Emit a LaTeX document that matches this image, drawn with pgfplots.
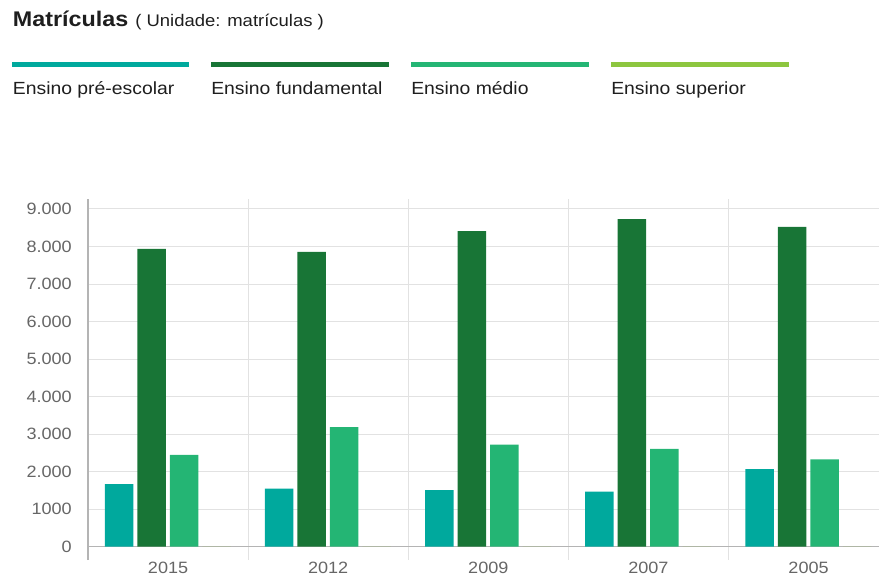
\documentclass[border=0pt]{standalone}
\usepackage{pgfplots}
\pgfplotsset{compat=1.18}
\usepackage{fontspec}
\setmainfont{Liberation Sans}[FakeStretch=1.1]

\definecolor{cpre}{RGB}{0,169,157}
\definecolor{cfund}{RGB}{24,117,54}
\definecolor{cmed}{RGB}{36,181,116}
\definecolor{csup}{RGB}{141,198,63}
\definecolor{gridgray}{RGB}{226,226,226}
\definecolor{axisgray}{RGB}{180,180,180}
\definecolor{tickgray}{RGB}{102,102,102}
\definecolor{txt}{RGB}{30,30,30}

\begin{document}
\begin{tikzpicture}
\path[use as bounding box] (0,0) rectangle (659.25pt,-432.75pt);

% title
\node[anchor=base west, inner sep=0pt, text=txt] at (9.5pt,-20pt)
  {\fontsize{15.9}{18}\selectfont\bfseries Matrículas};
\node[anchor=base west, inner sep=0pt, text=txt] at (101.25pt,-20pt)
  {\fontsize{12.6}{15}\selectfont ( Unidade: matrículas )};

% legend
\draw[cpre, line width=3.75pt] (9.2pt,-48.75pt) -- (141.5pt,-48.75pt);
\draw[cfund, line width=3.75pt] (158.25pt,-48.75pt) -- (291.75pt,-48.75pt);
\draw[cmed, line width=3.75pt] (308.25pt,-48.75pt) -- (441.75pt,-48.75pt);
\draw[csup, line width=3.75pt] (458.25pt,-48.75pt) -- (591.75pt,-48.75pt);
\begin{scope}[every node/.style={anchor=base west, inner sep=0pt, text=txt, font=\fontsize{13.2}{15}\selectfont}]
\node at (9.5pt,-70.7pt) {Ensino pré-escolar};
\node at (158.25pt,-70.7pt) {Ensino fundamental};
\node at (308.25pt,-70.7pt) {Ensino médio};
\node at (458.25pt,-70.7pt) {Ensino superior};
\end{scope}

\begin{axis}[
  at={(66pt,-420pt)}, anchor=south west,
  scale only axis, width=593.25pt, height=270.75pt,
  xmin=-0.5, xmax=4.44, ymin=-354, ymax=9266,
  axis line style={draw=none},
  ybar, bar width=0.178,
  xtick={0,1,2,3,4},
  xticklabels={2015,2012,2009,2007,2005},
  minor xtick={-0.5,0.5,1.5,2.5,3.5,4.5},
  xmajorgrids=false, xminorgrids=true,
  ytick={0,1000,...,9000},
  yticklabels={0,1000,2.000,3.000,4.000,5.000,6.000,7.000,8.000,9.000},
  ymajorgrids=true,
  extra y ticks={0}, extra y tick labels={},
  extra y tick style={grid style={draw=axisgray, line width=0.9pt}},
  grid style={draw=gridgray, line width=0.75pt},
  minor grid style={draw=gridgray, line width=0.75pt},
  major tick length=0pt, minor tick length=0pt,
  tick style={draw=none},
  xticklabel style={inner sep=0pt, yshift=-1.5pt, text=tickgray, font=\fontsize{12.3}{14}\selectfont},
  yticklabel style={inner sep=0pt, xshift=-12pt, text=tickgray, font=\fontsize{12.3}{14}\selectfont},
  clip=false,
]
\addplot[fill=cpre, draw=none, bar shift=-0.306] coordinates {
  (0,1665) (1,1545) (2,1505) (3,1465) (4,2065)};
\addplot[fill=cfund, draw=none, bar shift=-0.103] coordinates {
  (0,7940) (1,7860) (2,8410) (3,8730) (4,8525)};
\addplot[fill=cmed, draw=none, bar shift=0.100] coordinates {
  (0,2445) (1,3190) (2,2720) (3,2605) (4,2330)};
\addplot[fill=csup, draw=none, bar shift=0.303] coordinates {
  (0,0) (1,0) (2,0) (3,0) (4,0)};
\draw[axisgray, line width=0.9pt] (rel axis cs:0,0) -- (rel axis cs:0,1);
\end{axis}
\end{tikzpicture}
\end{document}
